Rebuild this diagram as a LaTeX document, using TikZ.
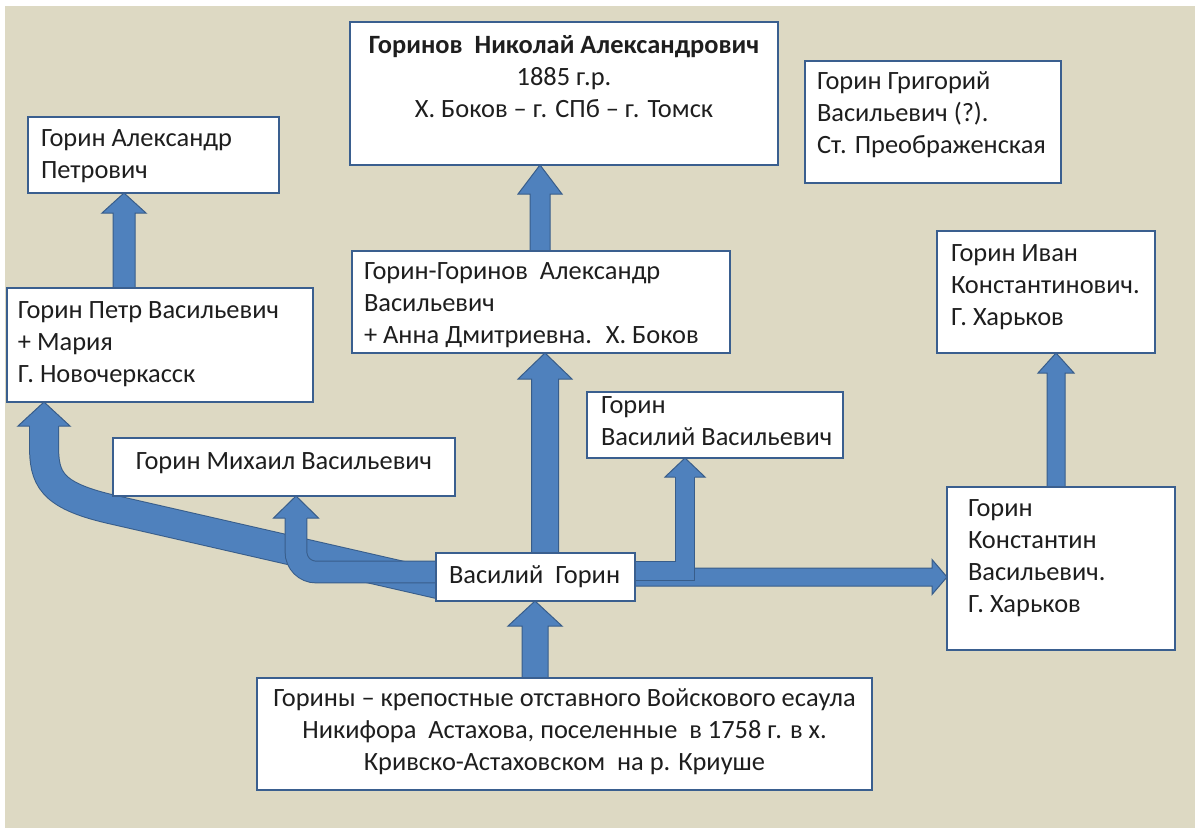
\documentclass[tikz,border=0pt]{standalone}
\usepackage{fontspec}
\setmainfont{Carlito}
\usetikzlibrary{calc}
\newdimen\px \px=0.75pt
\pgfdeclarelayer{bg}
\pgfsetlayers{bg,main}
\definecolor{bgc}{RGB}{221,217,195}
\definecolor{edgec}{RGB}{58,95,143}
\definecolor{arrf}{RGB}{79,129,189}
\definecolor{arre}{RGB}{56,93,138}
\definecolor{txtc}{RGB}{30,30,30}
\newcommand\lb[5]{\parbox[c][#2\px][t]{#1\px}{\raggedright\leftskip=#3\px\relax\rule{0pt}{#4\px}#5}}
\newcommand\cb[4]{\parbox[c][#2\px][t]{#1\px}{\centering\rule{0pt}{#3\px}#4}}
\newcommand\uparr[5]{\filldraw[arr] (#1) -- ++(#4,#5) -- ++(-#4+#3,0) |- (#2) -- ++(-#3,0) |- ($(#1)+(-#4,#5)$) -- cycle;}
\tikzset{
  box/.style={draw=edgec, line width=1.9pt, fill=white, inner sep=0pt, outer sep=0pt,
    anchor=north west, text=txtc, font=\fontsize{19.8pt}{24pt}\selectfont},
  arr/.style={fill=arrf, draw=arre, line width=0.75pt, line join=miter},
  shaft/.style={draw=arre, line width=0.75pt, double=arrf, double distance=#1, line join=miter}
}
\begin{document}
\begin{tikzpicture}[x=0.75pt,y=-0.75pt]
\useasboundingbox (0,0) rectangle (1195,828);
% boxes
\node[box] (A) at (350,22) {\cb{428}{143}{31}{\textbf{Горинов~ Николай Александрович}\\1885 г.р.\\Х. Боков – г. СПб – г. Томск}};
\node[box] (B) at (805,61) {\lb{256}{122}{12}{28}{Горин Григорий\\Васильевич (?).\\Ст. Преображенская}};
\node[box] (C) at (937,231) {\lb{218}{122}{14}{30}{Горин Иван\\Константинович.\\Г. Харьков}};
\node[box] (D) at (28,117) {\lb{251}{76}{13}{29}{Горин Александр\\Петрович}};
\node[box] (E) at (352,251) {\lb{378}{102}{12}{28}{Горин-Горинов~ Александр\\Васильевич\\+ Анна Дмитриевна.~ Х. Боков}};
\node[box] (F) at (7,288) {\lb{306}{114}{11}{30}{Горин Петр Васильевич\\+ Мария\\Г. Новочеркасск}};
\node[box] (G) at (113,438) {\cb{342}{58}{31}{Горин Михаил Васильевич}};
\node[box] (H) at (587,392) {\lb{256}{66}{14}{21}{Горин\\Василий Васильевич}};
\node[box] (I) at (436,553) {\lb{199}{48}{13}{30}{Василий~ Горин}};
\node[box] (J) at (947,487) {\lb{228}{163}{21}{29}{Горин\\Константин\\Васильевич.\\Г. Харьков}};
\node[box] (K) at (257,678) {\cb{615}{112}{28}{Горины – крепостные отставного Войскового есаула\\Никифора~ Астахова, поселенные~ в 1758 г. в х.\\Кривско-Астаховском~ на р. Криуше}};
% tips
\coordinate (tEA) at (540,0 |- A.south);
\coordinate (tFD) at (124,0 |- D.south);
\coordinate (tIE) at (545,0 |- E.south);
\coordinate (tKI) at (535,0 |- I.south);
\coordinate (tJC) at (1056,0 |- C.south);
\coordinate (tIJ) at (J.west |- 0,577);
\coordinate (tIH) at (685,0 |- H.south);
\coordinate (tIG) at (296,0 |- G.south);
\coordinate (tIF) at (44,0 |- F.south);
\begin{pgfonlayer}{bg}
\fill[white] (0,0) rectangle (1195,828);
\fill[bgc] (5,6) rectangle (1195,828);
% straight arrows
\uparr{tEA}{540,0 |- E.center}{10}{22}{29}
\uparr{tFD}{124,0 |- F.center}{11}{22}{20}
\uparr{tIE}{545,0 |- I.center}{13.5}{27}{26}
\uparr{tKI}{535,0 |- K.center}{13}{27}{25}
\uparr{tJC}{1056,0 |- J.center}{9}{18}{20}
% to Konstantin
\filldraw[arr] (tIJ) -- ++(-15,-17.5) -- ++(0,8.5) -- (I.center |- 0,568) -- (I.center |- 0,586) -- ($(tIJ)+(-15,9)$) -- ++(0,8.5) -- cycle;
% to Vasiliy Vasilievich
\draw[shaft=14pt] (I.center |- 0,571) -- (685,571) -- ($(tIH)+(0,19)$);
\filldraw[arr] ($(tIH)+(10,19)$) -- ++(10,0) -- (tIH) -- ++(-20,19) -- ++(10,0);
% to Petr (big curved)
\draw[shaft=21pt] ($(I.west)+(15,10)$) -- (110,509) .. controls (50,495) and (44,478) .. (44,445) -- ($(tIF)+(0,24)$);
\filldraw[arr] ($(tIF)+(14.5,24)$) -- ++(11.5,0) -- (tIF) -- ++(-26,24) -- ++(11.5,0);
% to Mikhail
\draw[shaft=15.5pt, rounded corners=15pt] (I.center |- 0,572) -- (296,572) -- ($(tIG)+(0,22)$);
\filldraw[arr] ($(tIG)+(11,22)$) -- ++(11.5,0) -- (tIG) -- ++(-22.5,22) -- ++(11.5,0);
\end{pgfonlayer}
\end{tikzpicture}
\end{document}
